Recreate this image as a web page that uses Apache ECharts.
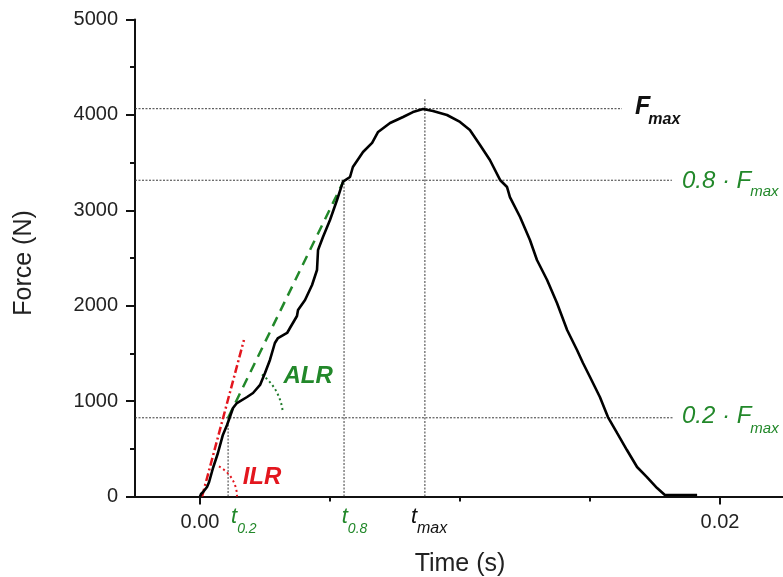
<!DOCTYPE html>
<html><head><meta charset="utf-8">
<script src="https://cdn.jsdelivr.net/npm/echarts@6/dist/echarts.min.js"></script>
<style>html,body{margin:0;padding:0;background:#fff}#c{width:783px;height:577px}</style>
</head><body><div id="c"></div>
<script>
// ---- data ----
const timeS = [0, 0.00004, 0.00012, 0.00027, 0.00035, 0.0005, 0.00069, 0.00088, 0.00104, 0.00115, 0.00127, 0.00142,
  0.00181, 0.00204, 0.00231, 0.0025, 0.00269, 0.00288, 0.003, 0.00335, 0.00346, 0.00373, 0.00377, 0.00404,
  0.00431, 0.0045, 0.00454, 0.00473, 0.005, 0.00527, 0.0055, 0.00577, 0.00588, 0.00627, 0.00662, 0.00685,
  0.00731, 0.00781, 0.00819, 0.00858, 0.00896, 0.0095, 0.01, 0.01038, 0.01077, 0.01115, 0.01154, 0.01181,
  0.01192, 0.01231, 0.01269, 0.01296, 0.01335, 0.01373, 0.01412, 0.0145, 0.01473, 0.015, 0.01538, 0.01569,
  0.01604, 0.01642, 0.01681, 0.01719, 0.01758, 0.01788, 0.01846, 0.01912];
const forceN = [0, 26, 47, 100, 152, 299, 456, 645, 749, 833, 928, 980,
  1043, 1085, 1169, 1295, 1431, 1609, 1661, 1714, 1766, 1892, 1955, 2060,
  2217, 2374, 2584, 2720, 2898, 3108, 3300, 3349, 3454, 3611, 3706, 3821,
  3915, 3978, 4030, 4062, 4041, 3999, 3926, 3842, 3685, 3527, 3318, 3244,
  3139, 2930, 2689, 2479, 2269, 2028, 1745, 1536, 1399, 1253, 1043, 833,
  666, 487, 309, 204, 89, 16, 16, 16];

const FMAX = 4065, F08 = 3315, F02 = 825;
const T02 = 0.00108, T08 = 0.00554, TMAX = 0.00865;
const TMAX_LINE_TOP = 4175;
const X_START = -0.0025;
const H_LINE_END = [0.01623, 0.01815, 0.01819];   // Fmax, 0.8Fmax, 0.2Fmax
const ilrT = [0.00008, 0.00169], ilrF = [0, 1640];
const alrT = [T02, T08], alrF = [F02, F08];
const arcCenterT = [0.000115, T02], arcCenterF = [0, F02];
const arcNames = ['ILR', 'ALR'];
const xMajorTicks = [0, 0.02];
const xMinorTicks = [0.005, 0.01, 0.015];
const yTickLabels = ['0', '1000', '2000', '3000', '4000', '5000'];
// annotation labels (main text + subscript), anchored to data points
const labelT = [H_LINE_END[0], H_LINE_END[1], H_LINE_END[2], T02, T08, TMAX];
const labelF = [FMAX, F08, F02, 0, 0, 0];
const labelMain = ['F', '0.8 · F', '0.2 · F', 't', 't', 't'];
const labelSub = ['max', 'max', 'max', '0.2', '0.8', 'max'];

// ---- styles ----
const FONT = 'Liberation Sans, Arial, sans-serif';
const GREEN = '#22882a', RED = '#e3161e', DOT = '#3a3a3a', BLACK = '#111';
const arcStyle = [
  {r: 34, a0: -62, a1: 0, color: RED, textColor: RED, dx: 59, dy: -19.5},
  {r: 55, a0: -52, a1: -6, color: '#1f7a2a', textColor: GREEN, dx: 80, dy: -41}
];
// dx,dy: main text left/centre offset from anchor; subDy: subscript centre offset; gap: subscript x gap
const labelStyle = [
  {color: BLACK, weight: 'bold', size: 25, subSize: 16, dx: 13, dy: -1.5, subDy: 12.2, gap: -2},
  {color: GREEN, weight: 'normal', size: 24, subSize: 15, dx: 10, dy: 1.5, subDy: 10.5, gap: -1},
  {color: GREEN, weight: 'normal', size: 24, subSize: 15, dx: 9, dy: -1.3, subDy: 12.7, gap: -1},
  {color: GREEN, weight: 'normal', size: 22, subSize: 14, dx: 3, dy: 20, subDy: 12.5, gap: 0},
  {color: GREEN, weight: 'normal', size: 22, subSize: 14, dx: -2.3, dy: 20, subDy: 12.5, gap: 0},
  {color: BLACK, weight: 'normal', size: 22, subSize: 16, dx: -14, dy: 20, subDy: 12, gap: 0}
];

const measureCtx = document.createElement('canvas').getContext('2d');
function textWidth(text, font) { measureCtx.font = font; return measureCtx.measureText(text).width; }

const pair = (ts, fs) => ts.map((t, i) => [t, fs[i]]);
const dotted = {color: DOT, width: 1, type: [2, 1.5]};

function hLine(y, xEnd) {
  return {type: 'line', data: [[X_START, y], [xEnd, y]], showSymbol: false, silent: true, lineStyle: dotted, z: 1};
}
function vLine(x, yTop) {
  return {type: 'line', data: [[x, 0], [x, yTop]], showSymbol: false, silent: true, lineStyle: dotted, z: 1};
}

const chart = echarts.init(document.getElementById('c'), null, {renderer: 'canvas'});
chart.setOption({
  animation: false,
  backgroundColor: '#fff',
  grid: {left: 135, top: 19.5, width: 650, height: 477, containLabel: false, outerBoundsMode: 'none'},
  xAxis: [{
    type: 'value', min: X_START, max: 0.0225,
    name: 'Time (s)', nameLocation: 'middle', nameGap: 55,
    nameTextStyle: {fontFamily: FONT, fontSize: 25, color: '#222'},
    axisLine: {show: true, onZero: false, lineStyle: {color: BLACK, width: 2}},
    axisTick: {show: true, length: 8, customValues: xMajorTicks, lineStyle: {color: BLACK, width: 2}},
    axisLabel: {show: true, customValues: xMajorTicks, margin: 16, fontFamily: FONT, fontSize: 20, color: '#222',
      formatter: v => v.toFixed(2)},
    splitLine: {show: false}
  }, {
    type: 'value', min: X_START, max: 0.0225, position: 'bottom',
    axisLine: {show: false, onZero: false},
    axisTick: {show: true, length: 5, customValues: xMinorTicks, lineStyle: {color: BLACK, width: 2}},
    axisLabel: {show: false}, splitLine: {show: false}
  }],
  yAxis: {
    type: 'value', min: 0, max: 5000, interval: 1000,
    name: 'Force (N)', nameLocation: 'middle', nameGap: 98,
    nameTextStyle: {fontFamily: FONT, fontSize: 25, color: '#222', padding: [0, 10, 0, 0]},
    axisLine: {show: true, onZero: false, lineStyle: {color: BLACK, width: 2}},
    axisTick: {show: true, length: 9, lineStyle: {color: BLACK, width: 2}},
    minorTick: {show: true, splitNumber: 2, length: 5, lineStyle: {color: BLACK, width: 2}},
    axisLabel: {margin: 17, fontFamily: FONT, fontSize: 20, color: '#222',
      formatter: (v) => yTickLabels[Math.round(v / 1000)]},
    splitLine: {show: false}
  },
  series: [
    hLine(FMAX, H_LINE_END[0]), hLine(F08, H_LINE_END[1]), hLine(F02, H_LINE_END[2]),
    vLine(T02, F02), vLine(T08, F08), vLine(TMAX, TMAX_LINE_TOP),
    {type: 'line', data: pair(ilrT, ilrF), showSymbol: false, silent: true, z: 3,
      lineStyle: {color: RED, width: 2.5, type: [8, 3, 2, 3]}},
    {type: 'line', data: pair(alrT, alrF), showSymbol: false, silent: true, z: 3,
      lineStyle: {color: GREEN, width: 2.5, type: [10, 7]}},
    {type: 'line', data: pair(timeS, forceN), showSymbol: false, silent: true, z: 5,
      lineStyle: {color: '#000', width: 2.6}},
    {type: 'custom', coordinateSystem: 'cartesian2d', silent: true, clip: false, z: 4,
      data: pair(arcCenterT, arcCenterF),
      renderItem: function (params, api) {
        const c = api.coord([api.value(0), api.value(1)]);
        const s = arcStyle[params.dataIndex];
        return {type: 'group', children: [
          {type: 'arc', shape: {cx: c[0], cy: c[1], r: s.r, startAngle: s.a0 * Math.PI / 180, endAngle: s.a1 * Math.PI / 180, clockwise: true},
            style: {stroke: s.color, fill: null, lineWidth: 2, lineDash: [2, 3]}},
          {type: 'text', x: c[0] + s.dx, y: c[1] + s.dy,
            style: {text: arcNames[params.dataIndex], fill: s.textColor, font: 'italic bold 24px ' + FONT, align: 'center', verticalAlign: 'middle'}}
        ]};
      }},
    {type: 'custom', coordinateSystem: 'cartesian2d', silent: true, clip: false, z: 6,
      data: pair(labelT, labelF),
      renderItem: function (params, api) {
        const i = params.dataIndex;
        const c = api.coord([api.value(0), api.value(1)]);
        const s = labelStyle[i];
        const mainFont = 'italic ' + s.weight + ' ' + s.size + 'px ' + FONT;
        const subFont = 'italic ' + s.weight + ' ' + s.subSize + 'px ' + FONT;
        const x0 = c[0] + s.dx, y0 = c[1] + s.dy;
        const w = textWidth(labelMain[i], mainFont);
        return {type: 'group', children: [
          {type: 'text', x: x0, y: y0, style: {text: labelMain[i], fill: s.color, font: mainFont, align: 'left', verticalAlign: 'middle'}},
          {type: 'text', x: x0 + w + s.gap, y: y0 + s.subDy, style: {text: labelSub[i], fill: s.color, font: subFont, align: 'left', verticalAlign: 'middle'}}
        ]};
      }}
  ]
});
</script></body></html>
